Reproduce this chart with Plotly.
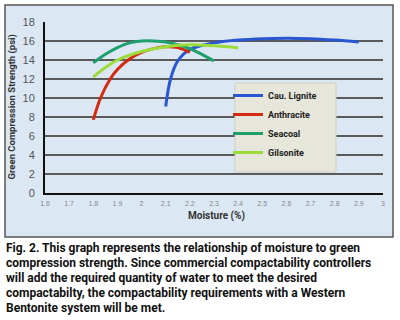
import plotly.graph_objects as go

# Data
lignite_x = [2.10, 2.12, 2.15, 2.20, 2.30, 2.40, 2.50, 2.60, 2.70, 2.80, 2.90]
lignite_y = [9.1, 12.0, 13.9, 15.1, 15.8, 16.1, 16.25, 16.3, 16.25, 16.1, 15.9]

anthr_x = [1.80, 1.83, 1.87, 1.90, 1.95, 2.00, 2.05, 2.10, 2.15, 2.20]
anthr_y = [7.7, 10.0, 12.0, 13.0, 14.1, 14.8, 15.2, 15.4, 15.3, 14.8]

seacoal_x = [1.80, 1.85, 1.90, 1.95, 2.00, 2.05, 2.10, 2.15, 2.20, 2.25, 2.30]
seacoal_y = [13.7, 14.6, 15.3, 15.8, 16.0, 16.0, 15.9, 15.6, 15.2, 14.6, 13.9]

gils_x = [1.80, 1.85, 1.90, 2.00, 2.10, 2.20, 2.30, 2.40]
gils_y = [12.2, 13.2, 14.0, 14.9, 15.4, 15.6, 15.5, 15.3]

series_names = ["Cau. Lignite", "Anthracite", "Seacoal", "Gilsonite"]
series_colors = ["#2a56d0", "#d42a10", "#1f9e6e", "#9bdc3a"]

x_ticks = [1.6, 1.7, 1.8, 1.9, 2.0, 2.1, 2.2, 2.3, 2.4, 2.5, 2.6, 2.7, 2.8, 2.9, 3.0]
x_tick_labels = ["1.6", "1.7", "1.8", "1.9", "2", "2.1", "2.2", "2.3", "2.4", "2.5",
                 "2.6", "2.7", "2.8", "2.9", "3"]
y_ticks = [0, 2, 4, 6, 8, 10, 12, 14, 16, 18]

caption_lines = [
    "Fig. 2. This graph represents the relationship of moisture to green",
    "compression strength. Since commercial compactability controllers",
    "will add the required quantity of water to meet the desired",
    "compactabilty, the compactability requirements with a Western",
    "Bentonite system will be met.",
]

W, H = 400, 320
L, R, T, B = 45, 17, 22, 127
pw, ph = W - L - R, H - T - B

def px(xp):
    return (xp - L) / pw

def py(yp):
    return (H - B - yp) / ph

fig = go.Figure()
for xs, ys, name, col in zip([lignite_x, anthr_x, seacoal_x, gils_x],
                             [lignite_y, anthr_y, seacoal_y, gils_y],
                             series_names, series_colors):
    fig.add_trace(go.Scatter(x=xs, y=ys, mode="lines", name=name,
                             line=dict(color=col, width=3, shape="spline", smoothing=1.0)))

cap_font = "Roboto, Liberation Sans, sans-serif"

annotations = [
    dict(text="<b>Green Compression Strength (psi)</b>", xref="paper", yref="paper",
         x=px(11), y=0.5, textangle=-90, showarrow=False, xanchor="center", yanchor="middle",
         font=dict(family=cap_font, size=9.5, color="#333")),
    dict(text="<b>Moisture (%)</b>", xref="paper", yref="paper",
         x=px(216), y=py(216), showarrow=False, xanchor="center", yanchor="middle",
         font=dict(family=cap_font, size=10, color="#333")),
]
for i, line in enumerate(caption_lines):
    annotations.append(dict(text="<b>" + line + "</b>", xref="paper", yref="paper",
                            x=px(4), y=py(248 + 15 * i), showarrow=False,
                            xanchor="left", yanchor="middle", align="left",
                            font=dict(family=cap_font, size=12, color="#111")))

fig.update_layout(
    width=W, height=H,
    margin=dict(l=L, r=R, t=T, b=B),
    paper_bgcolor="white",
    plot_bgcolor="#f3f4f1",
    showlegend=True,
    legend=dict(x=px(228), y=py(81), xanchor="left", yanchor="top",
                bgcolor="rgba(0,0,0,0)", borderwidth=0,
                font=dict(family=cap_font, size=9, color="#222", weight="bold"),
                itemwidth=30, tracegroupgap=0),
    xaxis=dict(range=[1.6, 3.0], tickmode="array", tickvals=x_ticks, ticktext=x_tick_labels,
               showgrid=False, zeroline=False, showline=True, linecolor="#111", linewidth=2,
               ticks="", tickfont=dict(family="Liberation Sans, Arial, sans-serif", size=7, color="#888"),
               ticklabelstandoff=3),
    yaxis=dict(range=[0, 18], tickmode="array", tickvals=y_ticks,
               showgrid=True, gridcolor="#5a5a5a", gridwidth=1.5, zeroline=False,
               showline=True, linecolor="#111", linewidth=2, mirror=False,
               ticks="", tickfont=dict(family="Liberation Sans, Arial, sans-serif", size=11, color="#555"),
               ticklabelstandoff=6),
    shapes=[
        dict(type="rect", xref="paper", yref="paper", x0=px(5), x1=px(393), y0=py(237), y1=py(5),
             fillcolor="#dce7f4", line=dict(color="#555", width=1.5), layer="below"),
        dict(type="rect", xref="paper", yref="paper", x0=px(235), x1=px(336), y0=py(172), y1=py(83),
             fillcolor="#e6e6da", line=dict(color="#cfcfc4", width=1), layer="above"),
    ],
    annotations=annotations,
)

fig.write_html("out.html")
